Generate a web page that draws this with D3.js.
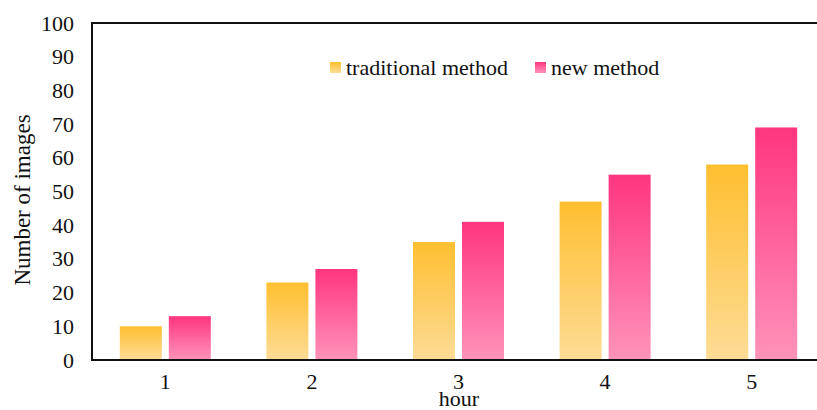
<!DOCTYPE html>
<html><head><meta charset="utf-8">
<script src="https://cdn.jsdelivr.net/npm/d3@7"></script>
<style>body{margin:0;background:#fff}svg{display:block}svg text{font-family:"Liberation Serif","Times New Roman","DejaVu Serif",serif}</style>
</head><body>
<svg id="c" width="817" height="410"></svg>
<script>
const categories = ["1","2","3","4","5"];
const traditional = [10, 23, 35, 47, 58];
const newMethod = [13, 27, 41, 55, 69];
const seriesNames = ["traditional method", "new method"];
const yTicks = [0,10,20,30,40,50,60,70,80,90,100];

(function(){
const svg = d3.select("#c");
const mLeft = 92, mRight = 825, mTop = 23, mBottom = 360;

const x = d3.scaleBand().domain(categories).range([mLeft, mRight]).padding(0);
const y = d3.scaleLinear().domain([0, 100]).range([mBottom, mTop]);

const defs = svg.append("defs");
function grad(id, c1, c2) {
  const g = defs.append("linearGradient").attr("id", id).attr("x1",0).attr("y1",0).attr("x2",0).attr("y2",1);
  g.append("stop").attr("offset","0%").attr("stop-color",c1);
  g.append("stop").attr("offset","100%").attr("stop-color",c2);
}
grad("gT", "#FFBF30", "#FDDC96");
grad("gN", "#FF3580", "#FF93BA");

const series = [
  {name: seriesNames[0], values: traditional, fill: "url(#gT)"},
  {name: seriesNames[1], values: newMethod, fill: "url(#gN)"}
];
const barW = 42, gap = 7;
series.forEach((s, si) => {
  svg.append("g").selectAll("rect").data(categories).join("rect")
    .attr("x", d => x(d) + x.bandwidth()/2 + (si === 0 ? -gap/2 - barW : gap/2))
    .attr("y", (d,i) => y(s.values[i]))
    .attr("width", barW)
    .attr("height", (d,i) => y(0) - y(s.values[i]))
    .attr("fill", s.fill);
});

const yAxis = d3.axisLeft(y).tickValues(yTicks).tickSize(0).tickPadding(18);
const gy = svg.append("g").attr("transform", `translate(${mLeft},0)`).call(yAxis);
gy.select(".domain").remove();
gy.attr("font-family", null).attr("font-size", null);
gy.selectAll("text").style("font-size", "22px").attr("fill", "#111");

const xAxis = d3.axisBottom(x).tickSize(0).tickPadding(13);
const gx = svg.append("g").attr("transform", `translate(0,${mBottom})`).call(xAxis);
gx.select(".domain").remove();
gx.attr("font-family", null).attr("font-size", null);
gx.selectAll("text").style("font-size", "22px").attr("fill", "#111");

svg.append("line").attr("x1", mLeft).attr("x2", 817).attr("y1", mBottom).attr("y2", mBottom).attr("stroke", "#111").attr("stroke-width", 2);
svg.append("line").attr("x1", mLeft).attr("x2", 817).attr("y1", mTop).attr("y2", mTop).attr("stroke", "#111").attr("stroke-width", 2);
svg.append("line").attr("x1", mLeft).attr("x2", mLeft).attr("y1", mTop-1).attr("y2", mBottom+1).attr("stroke", "#111").attr("stroke-width", 2);

svg.append("text").attr("x", 459).attr("y", 406).attr("text-anchor", "middle")
  .style("font-size", "22px").attr("fill", "#111").text("hour");
svg.append("text").attr("transform", "translate(30,200) rotate(-90)").attr("text-anchor", "middle")
  .style("font-size", "23px").attr("fill", "#111").text("Number of images");

const lg = [{x: 330, s: series[0]}, {x: 535, s: series[1]}];
lg.forEach(l => {
  svg.append("rect").attr("x", l.x).attr("y", 62).attr("width", 11).attr("height", 11).attr("fill", l.s.fill);
  svg.append("text").attr("x", l.x + 16).attr("y", 75).style("font-size", "22px")
    .attr("fill", "#111").text(l.s.name);
});
})();
</script>
</body></html>
